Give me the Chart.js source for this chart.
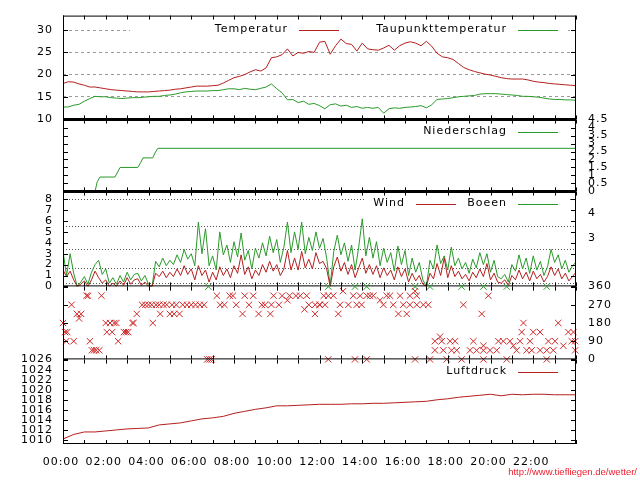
<!DOCTYPE html>
<html>
<head>
<meta charset="utf-8">
<script src="https://cdn.jsdelivr.net/npm/chart.js@4.4.1/dist/chart.umd.min.js"></script>
<style>
body { margin: 0; background: #fff; }
#wrap { position: relative; width: 640px; height: 480px; background: #fff; overflow: hidden; }
canvas { position: absolute; left: 0; }
#url { position: absolute; right: 3px; top: 466px; line-height: 12px; font: 9.5px "Liberation Sans", Arial, sans-serif; color: #ee2230; }
</style>
</head>
<body>
<div id="wrap">
  <canvas id="temp" width="640" height="140"></canvas>
  <canvas id="regen" width="640" height="110"></canvas>
  <canvas id="wind" width="640" height="130"></canvas>
  <canvas id="richtung" width="640" height="110"></canvas>
  <canvas id="druck" width="640" height="140"></canvas>
  <div id="url">http://www.tiefliegen.de/wetter/</div>
</div>
<script>
// x axis labels
const zeitLabels = ['00:00', '02:00', '04:00', '06:00', '08:00', '10:00', '12:00', '14:00', '16:00', '18:00', '20:00', '22:00'];

// temperatures, one value every 15 minutes
const temperatur = [
  18.0, 18.4, 18.3, 17.9, 17.6, 17.2, 17.2, 17.0, 16.8, 16.6,
  16.5, 16.4, 16.3, 16.2, 16.1, 16.1, 16.1, 16.2, 16.3, 16.4,
  16.5, 16.7, 16.8, 17.0, 17.2, 17.4, 17.4, 17.4, 17.5, 17.6,
  18.1, 18.7, 19.3, 19.6, 20.0, 20.6, 21.1, 20.8, 21.5, 23.8,
  24.0, 24.5, 25.8, 24.2, 25.0, 24.8, 25.2, 25.0, 27.3, 27.5,
  24.6, 26.5, 28.0, 27.0, 26.8, 25.3, 27.1, 25.8, 25.6, 25.5,
  26.0, 26.6, 25.5, 26.5, 27.1, 27.4, 27.1, 26.5, 27.5, 26.4,
  24.8, 24.0, 23.8, 23.4, 22.5, 21.6, 21.1, 20.7, 20.4, 20.1,
  19.9, 19.6, 19.3, 19.1, 19.0, 19.0, 19.0, 18.8, 18.5, 18.3,
  18.2, 18.0, 17.9, 17.8, 17.7, 17.6, 17.5];
const taupunkt = [
  12.7, 12.7, 13.1, 13.3, 14.0, 14.6, 15.1, 15.0, 15.0, 14.8,
  14.7, 14.6, 14.7, 14.8, 14.8, 14.9, 15.0, 15.1, 15.1, 15.3,
  15.4, 15.6, 15.9, 16.1, 16.2, 16.3, 16.3, 16.3, 16.4, 16.4,
  16.6, 16.8, 16.8, 16.6, 16.9, 16.7, 16.6, 16.9, 17.2, 17.9,
  16.8, 15.9, 14.3, 14.4, 13.7, 14.0, 13.3, 13.5, 13.0, 12.3,
  13.2, 13.4, 12.9, 13.1, 12.6, 12.8, 12.4, 12.6, 12.4, 12.6,
  11.3, 12.3, 12.5, 12.4, 12.6, 12.7, 12.8, 13.0, 12.5, 13.2,
  14.4, 14.5, 14.6, 14.8, 15.0, 15.1, 15.2, 15.3, 15.6, 15.7,
  15.7, 15.7, 15.6, 15.5, 15.4, 15.3, 15.1, 15.1, 15.0, 14.9,
  14.7, 14.5, 14.4, 14.4, 14.3, 14.3, 14.2];
const tempTicks = [10, 15, 20, 25, 30];

// rain sum
const regenZeit = [0, 1.5, 1.6, 1.73, 2.43, 2.67, 3.5, 3.63, 3.74, 4.2, 4.3, 4.44, 24];
const niederschlag = [0, 0, 0.6, 0.9, 0.9, 1.5, 1.5, 1.8, 2.1, 2.1, 2.4, 2.7, 2.7];
const regenTicks = [0, 0.5, 1, 1.5, 2, 2.5, 3, 3.5, 4, 4.5];

// wind and gusts, one value every 10 minutes
const wind = [
  1.5, 0.9, 1.4, 0.6, 0.0, 0.2, 0.5, 0.0, 0.6, 1.4, 0.8, 0.3,
  0.6, 0.0, 0.3, 0.0, 0.5, 0.1, 0.8, 0.2, 0.6, 0.7, 0.1, 0.4,
  0.0, 0.0, 1.2, 0.9, 1.4, 0.8, 1.3, 0.9, 1.6, 1.0, 1.9, 1.1,
  1.6, 0.6, 1.9, 1.0, 1.5, 0.4, 1.3, 0.6, 1.8, 1.0, 1.6, 0.8,
  1.9, 1.2, 2.9, 1.1, 1.8, 0.7, 1.5, 1.0, 2.0, 1.3, 2.3, 1.4,
  2.0, 1.0, 1.6, 3.3, 1.5, 2.6, 1.5, 3.2, 1.7, 2.5, 1.6, 3.1,
  2.1, 2.3, 1.6, 0.0, 1.8, 2.7, 1.4, 2.2, 1.1, 2.0, 0.8, 1.7,
  2.6, 1.2, 2.0, 1.1, 1.9, 0.8, 1.7, 1.0, 1.5, 0.6, 1.8, 0.9,
  1.6, 0.4, 1.2, 0.5, 1.0, 0.2, 0.0, 1.2, 0.7, 2.1, 1.0, 2.6,
  0.8, 1.9, 0.9, 1.4, 0.7, 1.1, 0.5, 1.3, 0.8, 1.6, 0.9, 2.1,
  0.6, 1.2, 0.4, 0.3, 0.6, 0.1, 1.0, 0.6, 1.5, 0.7, 1.3, 0.5,
  1.4, 0.7, 1.1, 0.4, 0.9, 1.8, 1.0, 1.6, 0.7, 1.2, 0.5, 0.9,
  1.3];
const boeen = [
  3.2, 1.0, 3.0, 1.2, 0.0, 0.4, 0.9, 0.2, 1.3, 2.0, 2.4, 1.1,
  1.6, 0.3, 0.8, 0.2, 1.0, 0.4, 1.3, 0.6, 1.1, 1.2, 0.5, 1.0,
  0.2, 0.0, 2.3, 1.8, 2.6, 1.9, 2.4, 2.0, 2.9, 2.2, 3.4, 2.5,
  3.0, 1.9, 5.9, 3.0, 5.3, 1.9, 2.8, 1.5, 5.0, 2.9, 3.8, 2.2,
  4.1, 2.7, 4.9, 2.4, 3.3, 1.6, 3.5, 2.6, 4.0, 2.8, 4.6, 3.1,
  4.3, 2.2, 3.6, 5.9, 3.1, 5.0, 3.4, 5.9, 3.0, 4.5, 3.3, 5.0,
  3.5, 4.4, 2.6, 0.1, 3.2, 4.7, 2.9, 4.0, 2.3, 3.8, 1.5, 3.6,
  6.2, 2.8, 4.5, 2.6, 4.1, 1.9, 3.5, 2.2, 3.1, 1.4, 3.7, 2.0,
  3.3, 1.0, 2.6, 1.3, 2.2, 0.6, 0.0, 2.4, 1.6, 3.8, 2.1, 2.8,
  1.5, 3.6, 1.9, 2.6, 1.6, 2.2, 1.2, 2.5, 1.7, 3.1, 2.0, 3.0,
  1.3, 2.4, 0.9, 0.7, 1.1, 0.4, 2.0, 1.4, 2.9, 1.6, 2.6, 1.2,
  2.8, 1.5, 2.3, 1.0, 1.8, 3.4, 2.2, 2.9, 1.6, 2.4, 1.3, 1.9,
  2.2];
const windTicks = [0, 1, 2, 3, 4, 5, 6, 7, 8];
const bftGrenzen = [0.3, 1.6, 3.4, 5.5, 8.0];
const bftMitte = [4.45, 6.75];
const bftStufen = ['3', '4'];

// wind direction
const richtungZeit = [
  0.00, 0.10, 0.20, 0.15, 0.40, 0.50, 0.65, 0.75, 0.85, 1.10, 1.17, 1.26, 1.35, 1.45, 1.55, 1.70, 1.80,
  2.00, 2.05, 2.20, 2.30, 2.40, 2.50, 2.58, 2.85, 2.95, 3.05, 3.25, 3.30, 3.45, 3.70, 3.85, 4.00, 4.15,
  4.20, 4.35, 4.50, 4.55, 4.70, 4.85, 5.00, 5.10, 5.20, 5.30, 5.45, 5.60, 5.80, 6.00, 6.20, 6.40, 6.60,
  6.75, 6.85, 6.95, 7.20, 7.35, 7.55, 7.80, 7.95, 8.10, 8.40, 8.50, 8.70, 8.90, 9.15, 9.30, 9.45, 9.70,
  9.75, 9.85, 10.10, 10.25, 10.50, 10.60, 10.90, 11.10, 11.30, 11.40, 11.50, 11.80, 12.00, 12.20,
  11.79, 12.02, 12.26, 12.41, 12.65, 12.41, 12.88, 12.96, 13.10, 13.35, 13.58, 13.74, 13.90, 13.97,
  14.21, 13.66, 14.21, 14.36, 14.52, 14.83, 14.99, 15.14, 15.30, 15.45, 15.69, 15.77, 15.92, 16.08,
  16.23, 16.23, 16.47, 16.55, 16.55, 16.47, 16.86, 17.09, 17.17, 17.40, 17.40, 17.64, 17.72, 17.79,
  17.95, 18.11, 18.18, 18.34, 18.42, 18.65, 18.73, 19.04, 19.20, 19.35, 19.59, 19.67, 19.67, 19.67,
  19.90, 19.98, 20.29, 20.37, 20.60, 20.76, 20.91, 21.07, 21.22, 21.38, 21.46, 21.54, 21.69, 21.85,
  22.00, 21.93, 22.32, 22.32, 22.63, 22.63, 22.71, 22.94, 23.02, 23.17, 23.41, 23.64, 23.80, 23.88,
  23.96, 23.96];
const richtung = [
  180, 135, 135, 90, 270, 90, 225, 202.5, 225, 315, 315, 90, 45, 45, 45, 45, 315,
  180, 135, 180, 135, 180, 180, 90, 135, 135, 135, 180, 180, 225, 270, 270, 270, 270,
  180, 270, 270, 225, 270, 270, 225, 270, 225, 270, 225, 270, 270, 270, 270, 270, 270,
  0, 0, 0, 315, 270, 270, 315, 315, 270, 225, 315, 270, 315, 225, 270, 270, 225,
  270, 315, 270, 315, 292.5, 315, 315, 315, 247.5, 315, 270, 270, 270, 315,
  225, 270, 270, 315, 315, 0, 225, 270, 337.5, 270, 315, 270, 315, 270,
  315, 0, 0, 315, 315, 292.5, 270, 315, 315, 270, 225, 315, 270, 225,
  315, 270, 337.5, 315, 270, 0, 270, 270, 0, 90, 45, 112.5, 90, 45,
  0, 90, 45, 90, 45, 0, 270, 45, 90, 45, 225, 67.5, 45, 0,
  315, 45, 45, 90, 90, 0, 90, 67.5, 45, 90, 135, 180, 45, 90,
  135, 45, 135, 45, 45, 0, 90, 45, 90, 180, 67.5, 135, 90, 135,
  45, 90];
const nordZeit = [6.8, 12.41, 13.66, 14.21, 16.47, 17.17, 18.65, 19.67, 20.76, 22.63];
const nordWert = [360, 360, 360, 360, 360, 360, 360, 360, 360, 360];
const richtungTicks = [0, 90, 180, 270, 360];

// pressure, one value every 30 minutes
const luftdruck = [
  1010.2, 1011.1, 1011.6, 1011.6, 1011.8, 1012.0, 1012.2, 1012.3, 1012.4, 1013.0,
  1013.2, 1013.4, 1013.8, 1014.2, 1014.4, 1014.7, 1015.3, 1015.7, 1016.1, 1016.4,
  1016.8, 1016.8, 1016.9, 1017.0, 1017.1, 1017.1, 1017.1, 1017.2, 1017.2, 1017.3,
  1017.3, 1017.4, 1017.5, 1017.6, 1017.7, 1018.0, 1018.2, 1018.5, 1018.7, 1018.9,
  1019.1, 1018.8, 1019.1, 1019.0, 1019.1, 1019.1, 1019.0, 1019.0, 1019.0];
const druckTicks = [1010, 1012, 1014, 1016, 1018, 1020, 1022, 1024, 1026];

const ROT = '#b41f1f', GRUEN = '#2a9a2a', KREUZ = '#d02828';

Chart.defaults.font.family = '"DejaVu Sans", sans-serif';
Chart.defaults.font.size = 11;
Chart.defaults.color = '#000';

function overDay(values) {
  return values.map((v, i) => ({x: i * 24 / (values.length - 1), y: v}));
}
function pairs(t, v) {
  return t.map((h, i) => ({x: h, y: v[i]}));
}
function linie(label, data, color) {
  return {label, data, borderColor: color, borderWidth: 1, pointRadius: 0, tension: 0, fill: false};
}
function kreuze(data, color) {
  return {data, showLine: false, pointStyle: 'crossRot', pointRadius: 4.5, borderColor: color, borderWidth: 1, clip: 6};
}

function xAxis(show) {
  return {
    type: 'linear', min: 0, max: 24, display: show,
    afterBuildTicks: s => { s.ticks = zeitLabels.map(l => ({value: parseInt(l, 10)})); },
    afterFit: s => { if (show) s.height = 35; },
    ticks: {autoSkip: false, maxRotation: 0, padding: 12, labelOffset: -2, callback: (v, i) => zeitLabels[i]},
    grid: {display: false, drawTicks: false},
    border: {display: false}
  };
}

function yAxis(pos, min, max, values, labels, more) {
  return Object.assign({
    type: 'linear', position: pos, min, max,
    afterBuildTicks: s => { s.ticks = values.map(v => ({value: v})); },
    afterFit: s => { s.width = pos == 'left' ? 63 : 64; },
    ticks: {display: !!labels, autoSkip: false, padding: pos == 'left' ? 10 : 12,
            callback: (v, i) => labels ? labels[i] : ''},
    grid: {display: false, drawTicks: false},
    border: {display: false}
  }, more || {});
}

// gnuplot look: key inside the top right, inward ticks, frame
const gnuplot = {
  id: 'gnuplot',
  defaults: {keyY: 12, thickBottom: false, drawTop: false},
  beforeDraw(chart) {
    chart.ctx.letterSpacing = '1px';
  },
  beforeDatasetsDraw(chart, args, o) {
    const items = chart.data.datasets.filter(d => d.label);
    if (!items.length) return;
    const ctx = chart.ctx, a = chart.chartArea, n = items.length;
    const colW = Math.max(...items.map(d => d.label.length)) * 9 + 57;
    const end = a.right - 18, y = a.top + o.keyY;
    ctx.save();
    ctx.fillStyle = '#fff';
    ctx.fillRect(end - n * colW + 10, y - 7, n * colW, 14);
    ctx.font = '11px "DejaVu Sans"';
    ctx.textAlign = 'right';
    ctx.textBaseline = 'middle';
    items.forEach((d, i) => {
      const lineEnd = end - (n - 1 - i) * colW;
      ctx.fillStyle = '#000';
      ctx.fillText(d.label, lineEnd - 51, y);
      ctx.strokeStyle = d.borderColor;
      ctx.lineWidth = 1;
      ctx.beginPath();
      ctx.moveTo(lineEnd - 40, Math.round(y) + 0.5);
      ctx.lineTo(lineEnd, Math.round(y) + 0.5);
      ctx.stroke();
    });
    ctx.restore();
  },
  afterDatasetsDraw(chart, args, o) {
    const ctx = chart.ctx, a = chart.chartArea, x = chart.scales.x, y = chart.scales.y;
    const l = a.left + 0.5, r = a.right - 0.5, t = a.top + 0.5, b = a.bottom - 0.5;
    ctx.save();
    ctx.strokeStyle = '#000';
    ctx.lineWidth = 1;
    ctx.beginPath();
    for (let h = 0; h <= 24; h++) {
      const px = Math.round(x.getPixelForValue(h)) + 0.5;
      ctx.moveTo(px, a.top); ctx.lineTo(px, a.top + 4);
      ctx.moveTo(px, a.bottom); ctx.lineTo(px, a.bottom - 4);
    }
    y.ticks.forEach(tk => {
      const py = Math.round(y.getPixelForValue(tk.value)) + 0.5;
      ctx.moveTo(a.left, py); ctx.lineTo(a.left + 5, py);
      ctx.moveTo(a.right, py); ctx.lineTo(a.right - 5, py);
    });
    // the top edge is drawn by the panel above, except for the first panel
    ctx.moveTo(l, a.top); ctx.lineTo(l, b);
    ctx.moveTo(r, a.top); ctx.lineTo(r, b);
    ctx.moveTo(a.left, b); ctx.lineTo(a.right, b);
    if (o.drawTop) { ctx.moveTo(a.left, t); ctx.lineTo(a.right, t); }
    ctx.stroke();
    if (o.thickBottom) {
      ctx.lineWidth = 3;
      ctx.beginPath();
      ctx.moveTo(a.left, a.bottom);
      ctx.lineTo(a.right, a.bottom);
      ctx.stroke();
    }
    ctx.restore();
  }
};

// top and bottom of each plot area in the 640x480 picture
function panel(id, top, bottom, datasets, scales, look, bottomPad) {
  const canvas = document.getElementById(id);
  const config = () => ({
    type: 'line',
    data: {datasets},
    options: {
      responsive: false, maintainAspectRatio: false, devicePixelRatio: 1, animation: false, events: [],
      layout: {padding: {top: 0, bottom: bottomPad, left: 0, right: 0}},
      scales,
      plugins: {legend: {display: false}, tooltip: {enabled: false}, gnuplot: look}
    },
    plugins: [gnuplot]
  });
  // first pass to learn the space the axes take, then size the canvas to fit the plot area
  let chart = new Chart(canvas, config());
  const over = chart.chartArea.top, under = canvas.height - chart.chartArea.bottom;
  chart.destroy();
  canvas.height = over + (bottom - top) + under;
  canvas.style.top = (top - over) + 'px';
  chart = new Chart(canvas, config());
}

panel('temp', 16, 120, [
  linie('Temperatur', overDay(temperatur), ROT),
  linie('Taupunkttemperatur', overDay(taupunkt), GRUEN)
], {
  x: xAxis(false),
  y: yAxis('left', 9.9, 33.3, tempTicks, tempTicks.map(String), {
    grid: {display: true, drawTicks: false, color: c => c.tick && c.tick.value > 10 ? '#9a9a9a' : 'rgba(0,0,0,0)'},
    border: {display: false, dash: [3, 3]}
  }),
  y2: yAxis('right', 9.9, 33.3, tempTicks, null)
}, {keyY: 14, thickBottom: true, drawTop: true}, 0);

panel('regen', 120, 192, [
  linie('Niederschlag', pairs(regenZeit, niederschlag), GRUEN)
], {
  x: xAxis(false),
  y: yAxis('left', 0, 4.5, regenTicks, null),
  y2: yAxis('right', 0, 4.5, regenTicks, regenTicks.map(String))
}, {keyY: 12, thickBottom: true}, 0);

panel('wind', 192, 287, [
  linie('Wind', overDay(wind), ROT),
  linie('Boeen', overDay(boeen), GRUEN)
], {
  x: xAxis(false),
  y: yAxis('left', 0, 8.7, windTicks, windTicks.map(String)),
  y2: yAxis('right', 0, 8.7, bftMitte, bftStufen),
  yb: yAxis('right', 0, 8.7, bftGrenzen, null, {
    afterFit: s => { s.width = 0; },
    grid: {display: true, drawTicks: false, color: '#555'},
    border: {display: false, dash: [1, 2]}
  })
}, {keyY: 12}, 0);

panel('richtung', 287, 360, [
  kreuze(pairs(richtungZeit, richtung), KREUZ),
  kreuze(pairs(nordZeit, nordWert), GRUEN)
], {
  x: xAxis(false),
  y: yAxis('left', 0, 360, richtungTicks, null),
  y2: yAxis('right', 0, 360, richtungTicks, richtungTicks.map(String))
}, {}, 0);

panel('druck', 360, 445, [
  linie('Luftdruck', overDay(luftdruck), ROT)
], {
  x: xAxis(true),
  y: yAxis('left', 1009.2, 1026, druckTicks, druckTicks.map(String)),
  y2: yAxis('right', 1009.2, 1026, druckTicks, null)
}, {keyY: 12}, 0);
</script>
</body>
</html>
